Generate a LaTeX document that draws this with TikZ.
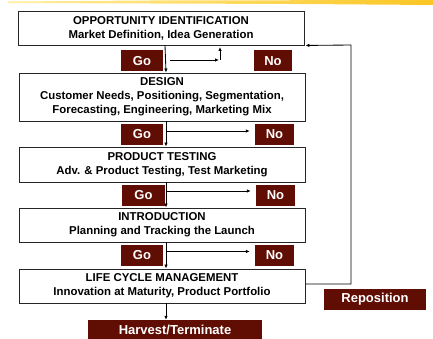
\documentclass[tikz,border=0pt]{standalone}
\usepackage{fontspec}
\setmainfont{Liberation Sans}
\usetikzlibrary{arrows.meta}

\definecolor{tagred}{RGB}{96,14,4}
\definecolor{brushA}{RGB}{255,238,160}
\definecolor{brushB}{RGB}{250,198,35}

\tikzset{
  stage/.style={draw=black!85, line width=0.9pt, fill=white, minimum width=286pt,
    inner sep=0pt, align=center, font=\fontsize{11.4}{14}\selectfont\bfseries},
  tag/.style={fill=tagred, text=white, inner sep=0pt, minimum height=21pt,
    font=\fontsize{13}{15}\selectfont\bfseries},
  flow/.style={draw=black, line width=0.85pt, -{Latex[length=4pt,width=3.5pt]}}
}

\begin{document}
\begin{tikzpicture}[x=1pt,y=-1pt]
\useasboundingbox (0,0) rectangle (433,339);

% brush stroke along the top edge
\shade[left color=brushA, right color=brushB]
  (8,1.5) -- (150,0.5) -- (433,0) -- (433,5) -- (300,4) -- (150,3.5) -- (8,3) -- cycle;

% Stages
\node[stage, minimum height=34pt] (opp) at (161,28)
  {OPPORTUNITY IDENTIFICATION\\Market Definition, Idea Generation};
\node[stage, minimum height=48pt] (design) at (162,97)
  {DESIGN\\Customer Needs, Positioning, Segmentation,\\Forecasting, Engineering, Marketing Mix};
\node[stage, minimum height=35pt] (test) at (162,164.5)
  {PRODUCT TESTING\\Adv. \& Product Testing, Test Marketing};
\node[stage, minimum height=34pt] (intro) at (162,225)
  {INTRODUCTION\\Planning and Tracking the Launch};
\node[stage, minimum height=34pt] (life) at (162,286)
  {LIFE CYCLE MANAGEMENT\\Innovation at Maturity, Product Portfolio};

% Go / No decisions
\node[tag, minimum width=42pt] (go1) at (142,61) {Go};
\node[tag, minimum width=38pt] (no1) at (273,61) {No};
\node[tag, minimum width=42pt] (go2) at (142,134.5) {Go};
\node[tag, minimum width=39pt] (no2) at (274.5,134.5) {No};
\node[tag, minimum width=43pt] (go3) at (143.5,195.5) {Go};
\node[tag, minimum width=39pt] (no3) at (275.5,195.5) {No};
\node[tag, minimum width=42pt] (go4) at (142,255) {Go};
\node[tag, minimum width=39pt] (no4) at (274.5,255) {No};

% Outcomes
\node[tag, minimum width=102pt] (repos) at (375,299.5) {Reposition};
\node[tag, minimum width=174pt, minimum height=19pt] (harvest) at (175,329.5) {Harvest/Terminate};

% Go: down to the next stage
\draw[flow] ([xshift=4pt]opp.south) -- ([xshift=4pt]design.north);
\draw[flow] ([xshift=4pt]design.south) -- ([xshift=4pt]test.north);
\draw[flow] ([xshift=4pt]test.south) -- ([xshift=4pt]intro.north);
\draw[flow] ([xshift=4pt]intro.south) -- ([xshift=4pt]life.north);
\draw[flow] ([xshift=4pt]life.south) -- ([xshift=-9pt]harvest.north);

% No: branch off to the right
\coordinate (k1) at (170,60);
\coordinate (k2) at (219,60);
\coordinate (k3) at (220,47);
\draw[flow] (k1) -- (k2);
\draw[flow] (k2 -| k3) -- (k3);

\coordinate (b2) at (166,131);
\coordinate (b3) at (166,191);
\coordinate (b4) at (166,251.5);
\draw[flow, shorten >=5pt] (b2) -- (no2.west |- b2);
\draw[flow, shorten >=5pt] (b3) -- (no3.west |- b3);
\draw[flow, shorten >=5pt] (b4) -- (no4.west |- b4);

% Reposition loop back to the start
\coordinate (turn) at (351,45);
\draw[flow] ([yshift=2pt]life.east) -| (turn) -- ([xshift=1pt]opp.south east);

\end{tikzpicture}
\end{document}
